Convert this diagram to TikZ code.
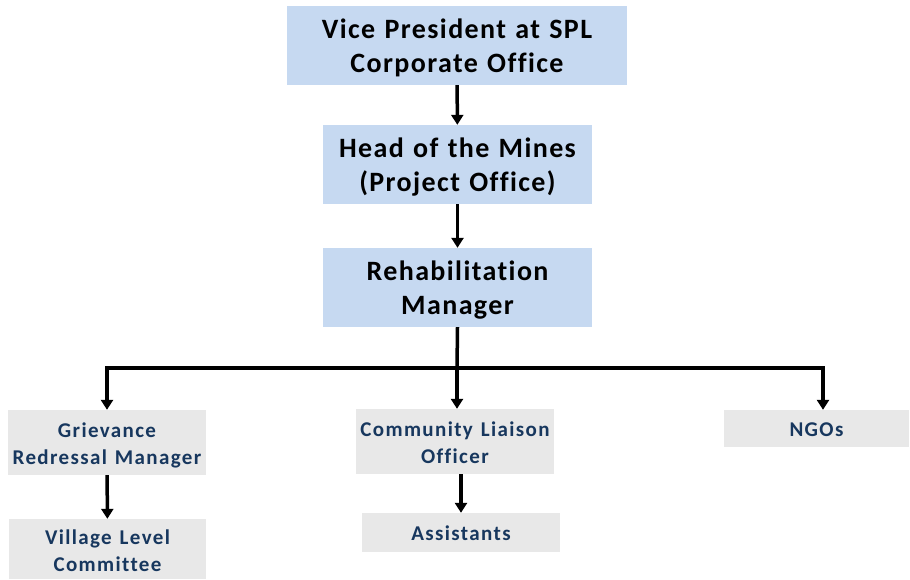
\documentclass[tikz,border=0pt]{standalone}
\usepackage{fontspec}
\setmainfont{Carlito}
\usepackage{xcolor}
\usetikzlibrary{arrows.meta}
\definecolor{topblue}{HTML}{C6D9F1}
\definecolor{lowgray}{HTML}{E8E8E8}
\definecolor{navytext}{HTML}{17375E}
\newfontfamily\upperfont[LetterSpace=5, Ligatures=NoCommon, WordSpace=1.2]{Carlito}
\newfontfamily\lowerfont[LetterSpace=6.5, Ligatures=NoCommon, WordSpace=1.3]{Carlito}

\begin{document}
\begin{tikzpicture}[x=1pt, y=-1pt]
        % 스타일 정의
        \tikzset{upperbox/.style={rectangle, fill=topblue, inner sep=0pt, align=center, font=\upperfont\fontsize{28}{34}\selectfont\bfseries, text=black, text height=54pt, text depth=0pt}}
        \tikzset{lowerbox/.style={rectangle, fill=lowgray, inner sep=0pt, align=center, font=\lowerfont\fontsize{21}{27}\selectfont\bfseries, text=navytext, text height=44.6pt, text depth=0pt}}
        \tikzset{oneline/.style={text height=16pt}}
        \tikzset{link/.style={line width=3.5pt, -{Triangle[length=10pt, width=12pt]}}}

        \useasboundingbox (0,0) rectangle (910,579);

        % 1. 위쪽 상자들
        \node[upperbox, minimum width=340pt, minimum height=79pt] (vp) at (457,45.5) {Vice President at SPL\\Corporate Office};
        \node[upperbox, minimum width=269pt, minimum height=79pt] (head) at (457.5,164.5) {Head of the Mines\\(Project Office)};
        \node[upperbox, minimum width=269pt, minimum height=79pt] (rehab) at (457.5,287.5) {Rehabilitation\\Manager};

        % 2. 아래쪽 상자들
        \node[lowerbox, minimum width=198pt, minimum height=65pt] (grm) at (107,442.5) {Grievance\\Redressal Manager};
        \node[lowerbox, minimum width=197pt, minimum height=60pt] (vlc) at (107.5,549) {Village Level\\Committee};
        \node[lowerbox, minimum width=198pt, minimum height=65pt] (clo) at (455,441.5) {Community Liaison\\Officer};
        \node[lowerbox, oneline, minimum width=198pt, minimum height=39pt] (asst) at (461,532.5) {Assistants};
        \node[lowerbox, oneline, minimum width=185pt, minimum height=37pt] (ngo) at (816.5,428.5) {NGOs};

        % 3. 연결선
        \coordinate (bus) at (457,368);
        \draw[link] (vp) -- (head);
        \draw[link] (head) -- (rehab);
        \draw[line width=3.5pt] (rehab.south) -- (bus);
        \draw[link] (bus) -- (bus |- clo.north);
        \draw[link, line join=miter] (bus) -| (grm.north);
        \draw[link, line join=miter] (bus) -| ([xshift=6.5pt]ngo.north);
        \draw[link] (grm) -- (vlc);
        \draw[link] (asst |- clo.south) -- (asst);
    \end{tikzpicture}
\end{document}
